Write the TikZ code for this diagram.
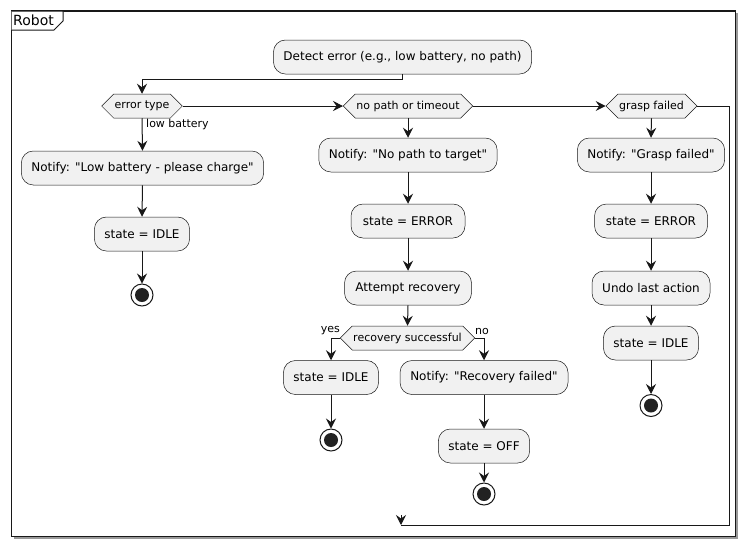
\documentclass[tikz,border=0pt]{standalone}
\usepackage{fontspec}
\setmainfont{DejaVu Sans}
\usetikzlibrary{shapes.symbols,arrows.meta}
\definecolor{lineC}{HTML}{181818}
\definecolor{fillC}{HTML}{F1F1F1}
\definecolor{stopC}{HTML}{222222}
\newcommand{\qq}{\textquotedbl}
\begin{document}
\begin{tikzpicture}[x=1pt,y=-1pt,
  act/.style={draw=lineC, fill=fillC, rounded corners=12pt, minimum height=34pt,
    inner xsep=10pt, inner ysep=0pt, line width=0.5pt, font=\fontsize{12}{14}\selectfont},
  dec/.style={draw=lineC, fill=fillC, signal, signal to=east and west, signal pointer angle=90,
    minimum height=24pt, inner xsep=1pt, inner ysep=0pt, line width=0.5pt, font=\fontsize{11}{13}\selectfont},
  lbl/.style={inner sep=0pt, font=\fontsize{11}{13}\selectfont},
  arr/.style={draw=lineC, line width=1pt, -{Stealth[length=10pt, width=10pt, inset=3.5pt]}},
  ln/.style={draw=lineC, line width=1pt},
  stopo/.style={circle, draw=lineC, fill=white, line width=1pt, minimum size=22pt, inner sep=0pt},
  stopi/.style={circle, fill=stopC, minimum size=14pt, inner sep=0pt},
]
\useasboundingbox (0,0) rectangle (746,547);
% frame
\fill[black!40] (13.5,13) rectangle (737.7,538.7);
\draw[lineC, line width=1.5pt, fill=white] (11.5,11) rectangle (735.7,536.7);
\draw[lineC, line width=1pt, fill=white] (11.5,11) -- (63,11) -- (63,21) -- (54,30) -- (11.5,30);
\node[anchor=base west, inner sep=0pt, font=\fontsize{14}{16}\selectfont] (title) at (13,25) {Robot};

% nodes
\node[act, minimum width=258pt] (detect) at (402.5,57) {Detect error (e.g., low battery, no path)};
\node[dec, minimum width=79pt] (etype) at (142,106) {error type};
\node[dec, minimum width=126pt] (nopath) at (408,106) {no path or timeout};
\node[dec, minimum width=90pt] (grasp) at (651.5,106) {grasp failed};

\node[act, minimum width=242pt] (nlow) at (142.5,168) {Notify: \qq Low battery - please charge\qq};
\node[act, minimum width=95pt] (idle1) at (142,234) {state = IDLE};
\node[stopo] (s1) at (142,295) {};
\node[stopi] at (s1) {};

\node[act, minimum width=177pt] (npath) at (408,155) {Notify: \qq No path to target\qq};
\node[act, minimum width=114pt] (err1) at (408,221) {state = ERROR};
\node[act, minimum width=127pt] (attempt) at (408,288) {Attempt recovery};
\node[dec, minimum width=131pt] (recok) at (407.5,338) {recovery successful};
\node[act, minimum width=95pt] (idle2) at (331,377.5) {state = IDLE};
\node[stopo] (s2) at (331,440) {};
\node[stopi] at (s2) {};
\node[act, minimum width=168pt] (nrec) at (484,377.5) {Notify: \qq Recovery failed\qq};
\node[act, minimum width=91pt] (off) at (484,446) {state = OFF};
\node[stopo] (s3) at (484,494) {};
\node[stopi] at (s3) {};

\node[act, minimum width=147pt] (ngrasp) at (651,155) {Notify: \qq Grasp failed\qq};
\node[act, minimum width=113pt] (err2) at (651,221) {state = ERROR};
\node[act, minimum width=118pt] (undo) at (651,288) {Undo last action};
\node[act, minimum width=95pt] (idle3) at (651,343) {state = IDLE};
\node[stopo] (s4) at (651,405.5) {};
\node[stopi] at (s4) {};

% labels
\node[lbl, anchor=west] (lowb) at (146,124) {low battery};
\node[lbl, anchor=east] (yes) at (340,331) {yes};
\node[lbl, anchor=west] (no) at (475,331) {no};

% coordinates
\coordinate (j1) at (142,79);
\coordinate (yb) at (331,338);
\coordinate (nb) at (484,338);
\coordinate (rc) at (729,525);
\coordinate (mend) at (401,525);
\coordinate (mtop) at (401,515);

% connectors
\draw[arr] (detect.south) |- (j1) -- (etype.north);
\draw[arr] (etype.east) -- (nopath.west);
\draw[arr] (nopath.east) -- (grasp.west);
\draw[arr] (etype.south) -- (nlow.north);
\draw[arr] (nlow.south) -- (idle1.north);
\draw[arr] (idle1.south) -- (s1.north);

\draw[arr] (nopath.south) -- (npath.north);
\draw[arr] (npath.south) -- (err1.north);
\draw[arr] (err1.south) -- (attempt.north);
\draw[arr] (attempt.south) -- (recok.north);
\draw[arr] (recok.west) -- (yb) -- (idle2.north);
\draw[arr] (idle2.south) -- (s2.north);
\draw[arr] (recok.east) -- (nb) -- (nrec.north);
\draw[arr] (nrec.south) -- (off.north);
\draw[arr] (off.south) -- (s3.north);

\draw[arr] (grasp.south) -- (ngrasp.north);
\draw[arr] (ngrasp.south) -- (err2.north);
\draw[arr] (err2.south) -- (undo.north);
\draw[arr] (undo.south) -- (idle3.north);
\draw[arr] (idle3.south) -- (s4.north);

\draw[ln] (grasp.east) -| (rc) -- (mend);
\draw[arr] (mtop) -- (mend);
\end{tikzpicture}
\end{document}
